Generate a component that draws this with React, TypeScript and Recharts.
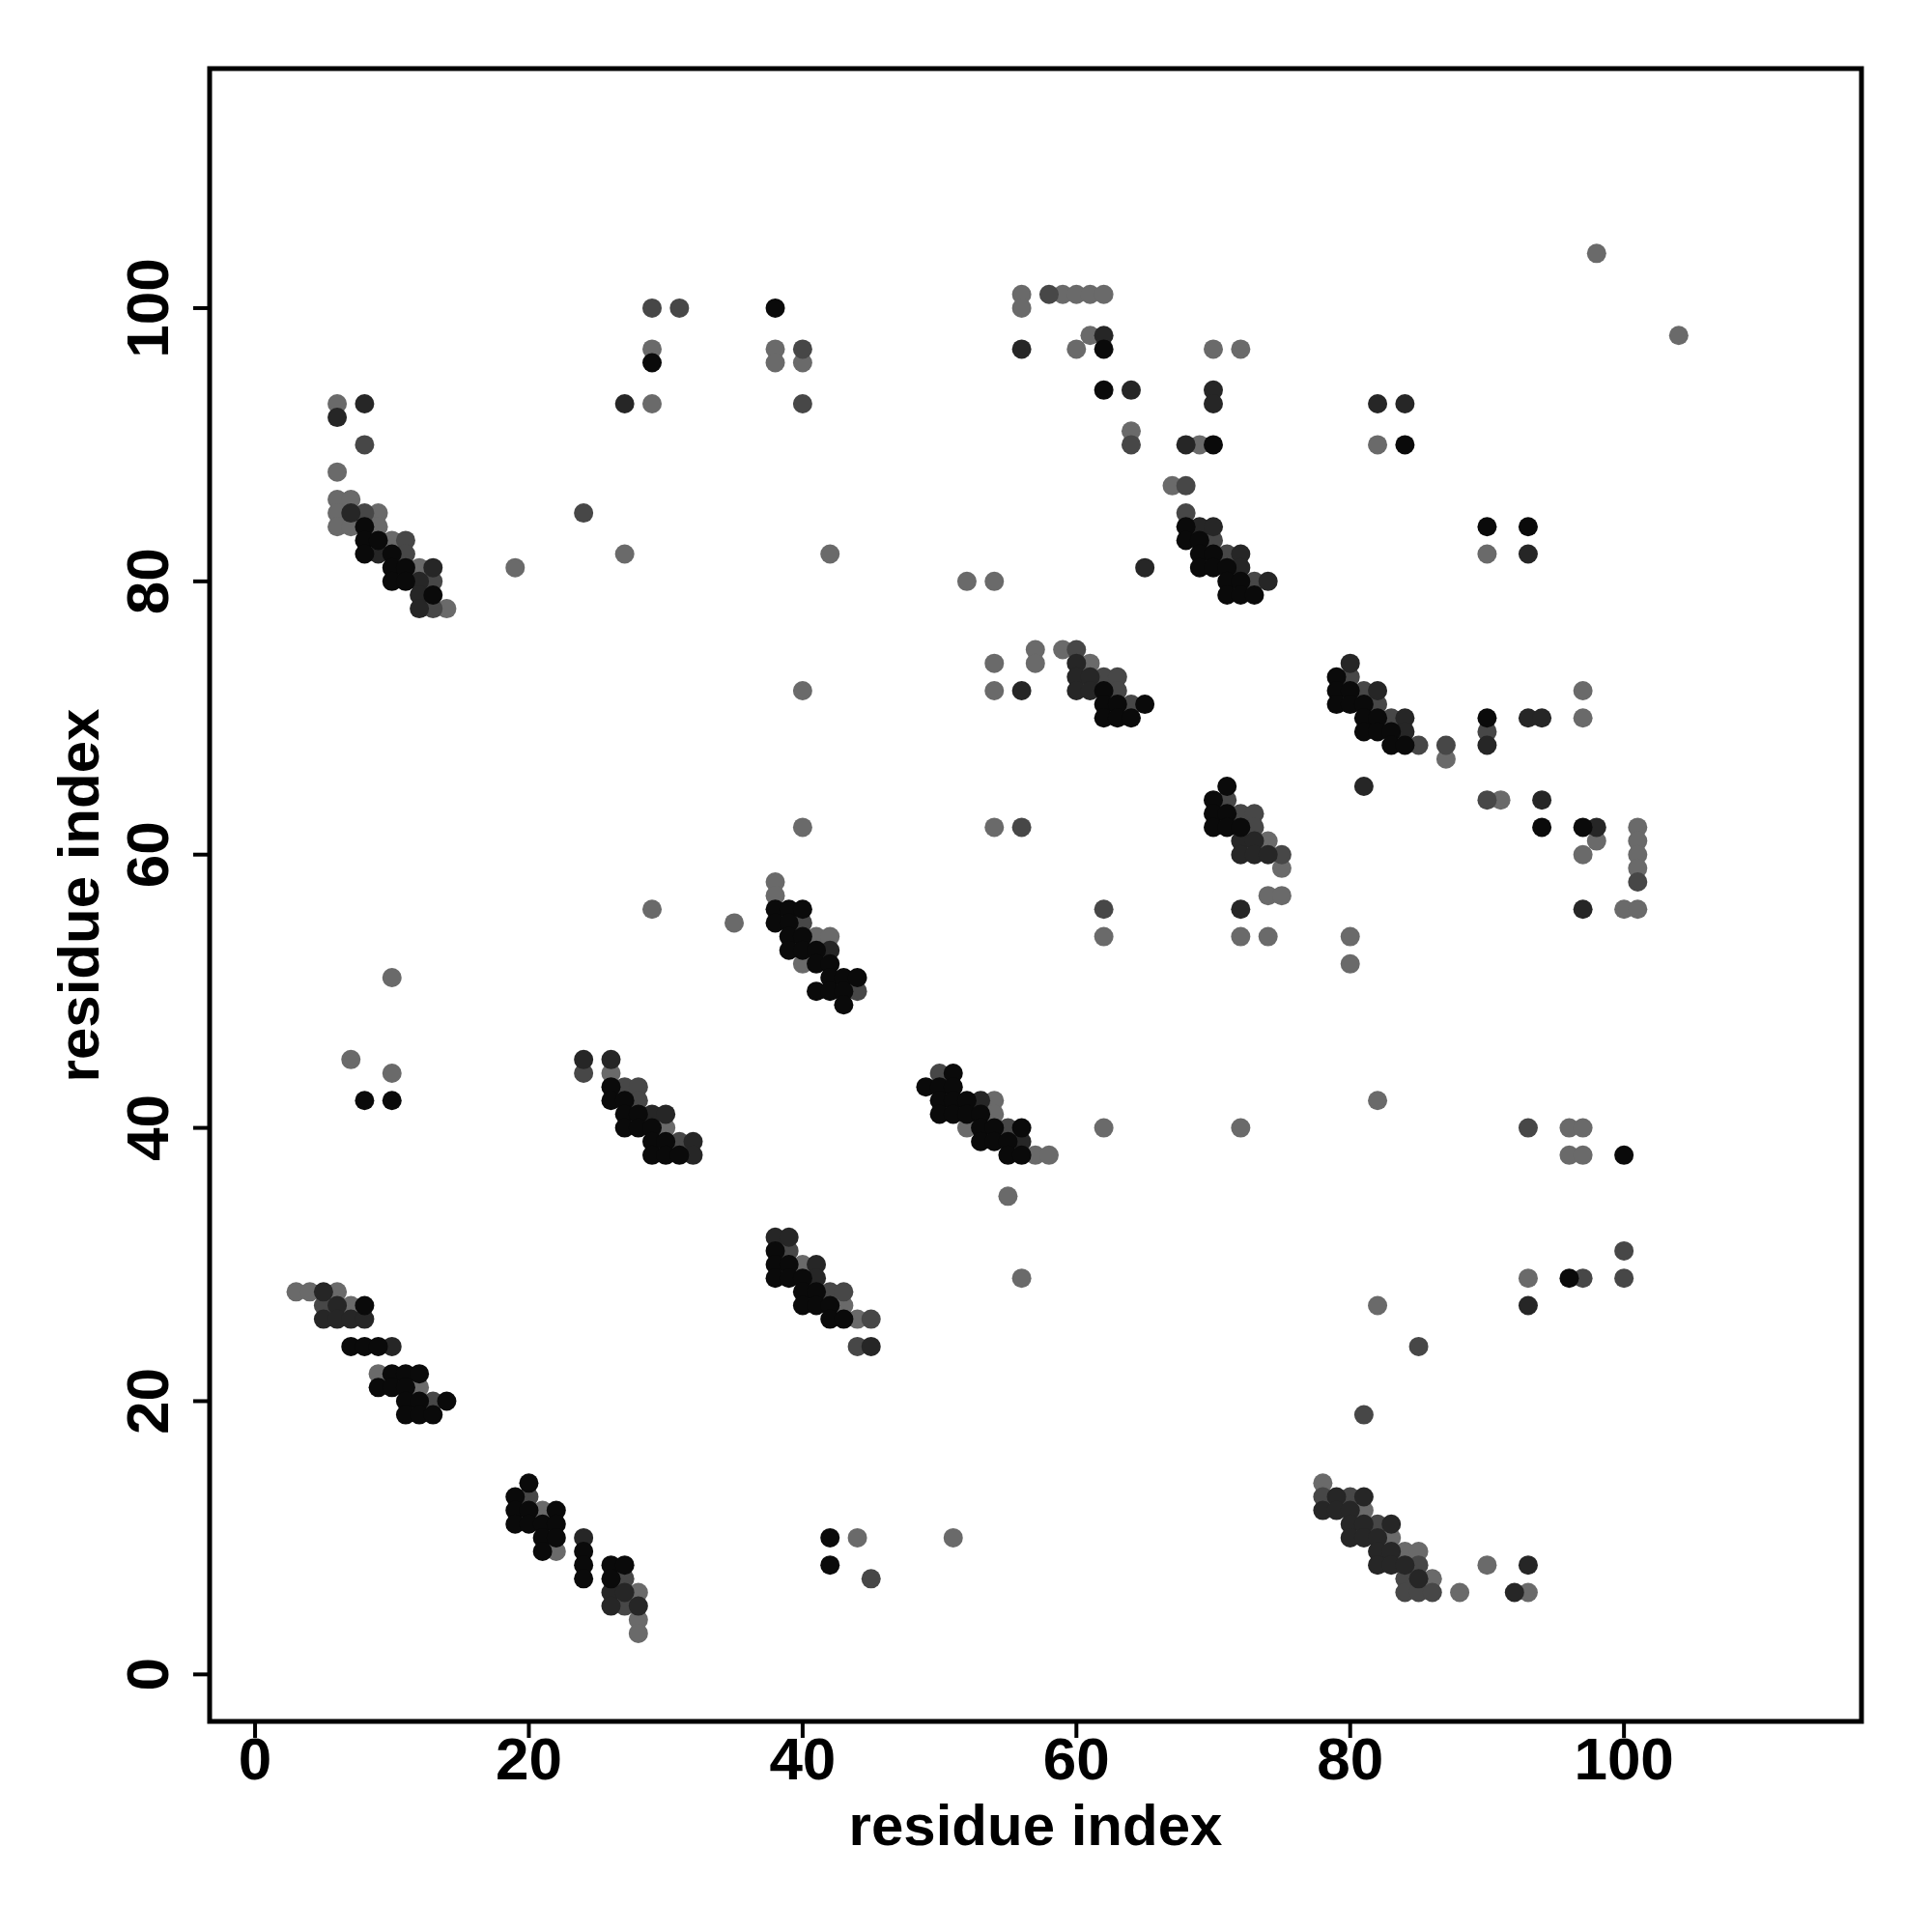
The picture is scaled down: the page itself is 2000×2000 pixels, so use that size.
import React from "react";
import {
  ScatterChart,
  Scatter,
  XAxis,
  YAxis,
  ReferenceArea,
  Label,
} from "recharts";

// contacts (residue i, residue j), grouped by how dark the dot is
const blackContacts: Array<[number, number]> = [
  [8, 84], [8, 83], [9, 83], [8, 82], [10, 82], [10, 81], [11, 81], [10, 80], [11, 80], [13, 79],
  [29, 96], [38, 100], [62, 97], [62, 94], [70, 90], [84, 90], [90, 84], [93, 84],
  [68, 84], [68, 83], [69, 83], [69, 82], [70, 82], [69, 81], [70, 81], [71, 81], [71, 80], [72, 80], [71, 79], [72, 79], [73, 79],
  [62, 72], [62, 71], [63, 71], [65, 71], [62, 70], [63, 70], [64, 70],
  [71, 65], [70, 64], [70, 63], [71, 63], [70, 62], [71, 62], [72, 62],
  [79, 73], [79, 72], [80, 72], [79, 71], [80, 71], [81, 71], [81, 70], [82, 70], [81, 69], [82, 69], [83, 69], [83, 68], [84, 68], [90, 70], [94, 62], [97, 62],
  [38, 56], [39, 56], [40, 56], [38, 55], [39, 55], [39, 54], [40, 54], [39, 53], [40, 53], [41, 53], [41, 52], [42, 52], [42, 51], [43, 51], [44, 51], [41, 50], [42, 50], [43, 50], [43, 49],
  [8, 42], [10, 42],
  [26, 43], [26, 42], [27, 42], [27, 41], [28, 41], [27, 40], [28, 40], [29, 40], [29, 39], [30, 39], [29, 38], [30, 38], [31, 38],
  [51, 44], [49, 43], [50, 43], [51, 43], [50, 42], [51, 42], [52, 42], [50, 41], [51, 41], [52, 41], [53, 41], [53, 40], [54, 40], [56, 40], [53, 39], [54, 39], [55, 39], [55, 38], [56, 38],
  [100, 38], [96, 29],
  [38, 31], [38, 30], [39, 30], [38, 29], [39, 29], [40, 29], [40, 28], [41, 28], [40, 27], [41, 27], [42, 27], [42, 26], [43, 26],
  [8, 27], [7, 24], [8, 24], [9, 24], [10, 22], [11, 22], [12, 22], [9, 21], [10, 21], [11, 21], [11, 20], [12, 20], [14, 20], [11, 19], [12, 19], [13, 19],
  [20, 14], [19, 13], [19, 12], [20, 12], [22, 12], [19, 11], [20, 11], [21, 11], [22, 11], [21, 10], [22, 10], [21, 9], [24, 9], [24, 8], [24, 7], [26, 8], [27, 8], [26, 7],
  [42, 10], [42, 8],
];

const darkContacts: Array<[number, number]> = [
  [6, 92], [8, 93], [7, 85], [9, 82], [13, 81], [12, 80], [12, 79], [12, 78],
  [27, 93],
  [56, 97], [62, 98], [64, 94], [68, 90], [69, 84], [70, 84], [72, 82], [72, 81], [74, 80], [65, 81], [70, 94], [70, 93], [82, 93], [84, 93], [93, 82],
  [56, 72], [60, 74], [60, 73], [61, 73], [60, 72], [61, 72],
  [72, 61], [73, 61], [72, 60], [73, 60], [74, 60], [72, 56],
  [80, 74], [82, 72], [84, 70], [84, 69], [90, 68], [93, 70], [94, 70], [81, 65], [94, 64], [98, 62], [97, 56],
  [42, 53],
  [24, 45], [26, 45], [29, 41], [30, 41], [32, 39], [32, 38],
  [53, 42], [56, 39],
  [93, 27],
  [38, 32], [39, 32], [41, 30], [41, 29], [45, 24],
  [5, 28], [6, 27], [5, 26], [6, 26], [7, 26], [8, 26], [10, 24],
  [24, 10], [26, 6], [27, 6], [26, 5], [28, 5],
  [79, 13], [81, 13], [78, 12], [79, 12], [80, 12], [80, 11], [81, 11], [83, 11], [80, 10], [81, 10], [82, 10], [82, 9], [83, 9], [82, 8], [83, 8], [84, 8], [85, 7], [93, 8], [92, 6],
];

const greyContacts: Array<[number, number]> = [
  [8, 90], [8, 85], [11, 83], [11, 82], [13, 80], [13, 78],
  [29, 100], [31, 100], [40, 97], [40, 93], [24, 85],
  [58, 101], [64, 90], [68, 87], [68, 85], [70, 83], [71, 82], [73, 80],
  [60, 75], [62, 73], [63, 73], [63, 72], [64, 71], [56, 62],
  [71, 64], [72, 63], [73, 63], [73, 62], [75, 60], [62, 56],
  [80, 73], [81, 72], [82, 71], [83, 70], [85, 68], [87, 68], [90, 69], [90, 64], [101, 58],
  [40, 55], [44, 50],
  [24, 44], [27, 43], [28, 43], [28, 42], [31, 39],
  [50, 44], [55, 40],
  [93, 40], [100, 31], [97, 29], [100, 29], [85, 24], [81, 19],
  [39, 31], [42, 28], [43, 28], [45, 26], [44, 24],
  [5, 27], [13, 20],
  [20, 13], [27, 7], [27, 5],
  [78, 13], [80, 13], [82, 11], [85, 8], [84, 7], [84, 6], [85, 6], [86, 6], [45, 7],
];

const lightContacts: Array<[number, number]> = [
  [6, 93], [6, 88], [6, 86], [7, 86], [6, 85], [9, 85], [6, 84], [7, 84], [9, 84], [10, 83], [12, 81], [14, 78], [19, 81],
  [29, 97], [29, 93], [38, 97], [38, 96], [40, 96], [27, 82], [42, 82],
  [56, 101], [56, 100], [59, 101], [60, 101], [61, 101], [62, 101], [61, 98], [60, 97], [70, 97], [72, 97], [64, 91], [69, 90], [67, 87], [52, 80], [54, 80], [90, 82], [82, 90], [98, 104], [104, 98],
  [54, 74], [54, 72], [57, 75], [57, 74], [59, 75], [61, 74], [54, 62],
  [74, 61], [75, 59], [74, 57], [75, 57], [62, 54], [72, 54], [74, 54],
  [87, 67], [97, 72], [97, 70], [91, 64], [98, 61], [97, 60], [101, 62], [101, 61], [101, 60], [101, 59], [100, 56], [101, 56], [80, 54], [80, 52],
  [40, 72], [40, 62], [38, 58], [38, 57], [41, 54], [42, 54], [40, 52], [29, 56], [35, 55],
  [10, 51], [7, 45], [10, 44],
  [26, 44], [30, 40],
  [54, 42], [54, 41], [52, 40], [57, 38], [58, 38], [62, 40], [55, 35], [56, 29], [72, 40], [82, 42], [96, 40], [97, 40], [96, 38], [97, 38], [93, 29], [82, 27],
  [40, 30], [43, 27], [44, 26],
  [3, 28], [4, 28], [6, 28], [7, 27], [9, 22], [12, 21],
  [21, 12], [22, 9], [28, 6], [28, 4], [28, 3],
  [44, 10], [51, 10],
  [78, 14], [81, 12], [83, 10], [84, 9], [85, 9], [86, 7], [88, 6], [90, 8], [93, 6],
];

const xTicks = [0, 20, 40, 60, 80, 100];
const yTicks = [0, 20, 40, 60, 80, 100];
const axisTitle = "residue index";

const X_DOMAIN: [number, number] = [-3.32, 117.35];
const Y_DOMAIN: [number, number] = [-3.44, 117.53];
const FONT = "'Liberation Sans', Arial, Helvetica, sans-serif";

const toPoints = (pairs: Array<[number, number]>) =>
  pairs.map(([i, j]) => ({ x: i, y: j }));

const dot = (fill: string) => (props: any) =>
  <circle cx={props.cx} cy={props.cy} r={10} fill={fill} />;

const XTick = (props: any) => {
  const { x, y, payload } = props;
  return (
    <text x={x} y={y + 41} textAnchor="middle" fontSize={62} fontWeight="bold" fontFamily={FONT} fill="#000">
      {payload.value}
    </text>
  );
};

const YTick = (props: any) => {
  const { x, y, payload } = props;
  return (
    <text transform={`translate(${x - 24}, ${y}) rotate(-90)`} textAnchor="middle" fontSize={62} fontWeight="bold" fontFamily={FONT} fill="#000">
      {payload.value}
    </text>
  );
};

const series = [
  { name: "light", pairs: lightContacts, color: "#6a6a6a" },
  { name: "grey", pairs: greyContacts, color: "#474747" },
  { name: "dark", pairs: darkContacts, color: "#262626" },
  { name: "black", pairs: blackContacts, color: "#0a0a0a" },
];

const App = () => {
  return (
    <div style={{ position: "absolute", left: 0, top: 0, background: "#fff" }}>
      <ScatterChart width={2000} height={2000} margin={{ top: 71, right: 73, bottom: 0, left: 0 }}>
        <XAxis
          type="number"
          dataKey="x"
          domain={X_DOMAIN}
          ticks={xTicks}
          allowDataOverflow
          axisLine={false}
          tickLine={{ stroke: "#000", strokeWidth: 4 }}
          tickSize={17}
          height={218}
          tick={<XTick />}
        >
          <Label
            content={() => (
              <text x={1072} y={1910} textAnchor="middle" fontSize={60} fontWeight="bold" fontFamily={FONT} fill="#000">
                {axisTitle}
              </text>
            )}
          />
        </XAxis>
        <YAxis
          type="number"
          dataKey="y"
          domain={Y_DOMAIN}
          ticks={yTicks}
          allowDataOverflow
          axisLine={false}
          tickLine={{ stroke: "#000", strokeWidth: 4 }}
          tickSize={17}
          width={217}
          tick={<YTick />}
        >
          <Label
            content={() => (
              <text transform="translate(102, 927) rotate(-90)" textAnchor="middle" fontSize={60} fontWeight="bold" fontFamily={FONT} fill="#000">
                {axisTitle}
              </text>
            )}
          />
        </YAxis>
        <ReferenceArea
          x1={X_DOMAIN[0]}
          x2={X_DOMAIN[1]}
          y1={Y_DOMAIN[0]}
          y2={Y_DOMAIN[1]}
          fill="none"
          fillOpacity={0}
          stroke="#000"
          strokeWidth={5}
          ifOverflow="visible"
        />
        {series.map((s) => (
          <Scatter
            key={s.name}
            name={s.name}
            data={toPoints(s.pairs)}
            shape={dot(s.color)}
            isAnimationActive={false}
          />
        ))}
      </ScatterChart>
    </div>
  );
};

export default App;
